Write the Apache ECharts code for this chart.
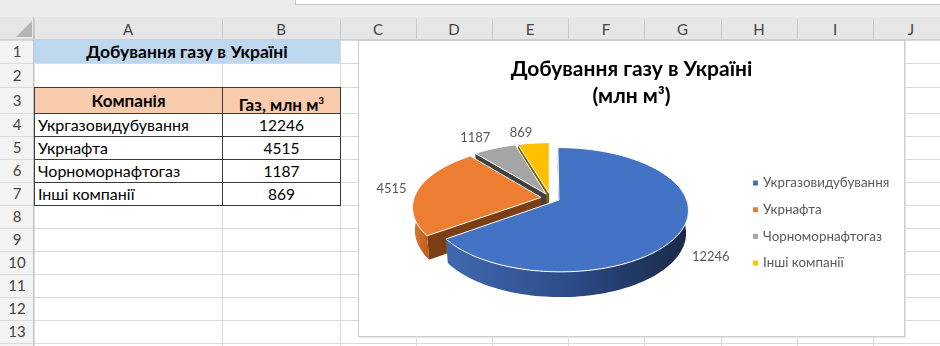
<!DOCTYPE html>
<html>
<head>
<meta charset="utf-8">
<script src="https://cdn.jsdelivr.net/npm/echarts@6/dist/echarts.min.js"></script>
<style>
html, body { margin: 0; padding: 0; }
body {
  width: 940px;
  height: 346px;
  overflow: hidden;
  position: relative;
  background: #fff;
  font-family: Lato, 'Open Sans', sans-serif;
}
.abs { position: absolute; box-sizing: border-box; white-space: nowrap; }
#chartBox {
  position: absolute;
  left: 358px;
  top: 40px;
  width: 547px;
  height: 297px;
  border: 1px solid #cdcdcd;
  box-shadow: 1px 1px 0 #e4e4e4;
  background: #fff;
  box-sizing: border-box;
}
#chart { width: 100%; height: 100%; }
</style>
</head>
<body>
<div id="sheet"></div>
<div id="chartBox"><div id="chart"></div></div>
<script>
// дані
const companies = ['Укргазовидубування', 'Укрнафта', 'Чорноморнафтогаз', 'Інші компанії'];
const gasOutput = [12246, 4515, 1187, 869];
const sheetTitle = 'Добування газу в Україні';
const tableHeader = ['Компанія', 'Газ, млн м<sup style="font-size:10px">3</sup>'];
const chartTitle = 'Добування газу в Україні\n(млн м³)';
const colLetters = ['A', 'B', 'C', 'D', 'E', 'F', 'G', 'H', 'I', 'J'];
const rowNumbers = [1, 2, 3, 4, 5, 6, 7, 8, 9, 10, 11, 12, 13];

const sliceColors = ['#4472c4', '#ed7d31', '#a5a5a5', '#ffc000'];
const cutColors = ['#1f3564', '#7c3f13', '#404040', '#7f6000'];
const outerColors = [
  ['#4169b0', '#2d4c8a', '#1a2947'],
  ['#d87a35', '#cc6b26', '#b85a18'],
  ['#8c8c8c', '#7a7a7a', '#606060'],
  ['#d9a300', '#c49300', '#a07800']
];
const fontFamily = 'Lato, "Open Sans", sans-serif';

// ---- аркуш Excel ----
const sheet = document.getElementById('sheet');
const colEdges = [34, 222, 340, 416, 492, 568, 644, 721, 797, 873, 949];
const rowEdges = [40, 63, 87, 113, 136, 159, 182, 205, 228, 251, 274, 297, 320, 343];

function box(x, y, w, h, css, html) {
  const d = document.createElement('div');
  d.className = 'abs';
  d.style.cssText = `left:${x}px;top:${y}px;width:${w}px;height:${h}px;` + (css || '');
  if (html != null) d.innerHTML = html;
  sheet.appendChild(d);
  return d;
}

box(0, 0, 940, 17, 'background:#ececec');
box(295, 0, 645, 5, 'background:#fff;border-left:1px solid #c6c6c6;border-bottom:1px solid #c6c6c6');
box(0, 17, 940, 23, 'background:#e6e6e6');
box(16, 21, 0, 0, 'border-left:16px solid transparent;border-bottom:16px solid #b5b5b5');
box(0, 40, 34, 306, 'background:#f3f3f3');

rowEdges.forEach(y => box(0, y, 940, 1, 'background:#dadada'));
colEdges.forEach(x => {
  box(x, 40, 1, 306, 'background:#dadada');
  box(x, 19, 1, 21, 'background:#c9c9c9');
});
box(33, 17, 1, 329, 'background:#c4c4c4');
box(0, 39, 940, 1, 'background:#cfcfcf');

colLetters.forEach((c, i) => {
  box(colEdges[i], 17, colEdges[i + 1] - colEdges[i], 23,
    'text-align:center;line-height:24px;color:#444;font-size:15px', c);
});
rowNumbers.forEach((n, i) => {
  const y0 = rowEdges[i], y1 = rowEdges[i + 1] || 366;
  box(0, y0, 34, y1 - y0, `text-align:center;line-height:${y1 - y0}px;color:#444;font-size:15px`, n);
});

// A1:B1
box(34, 40, 306, 23, 'background:#bdd7ee;text-align:center;line-height:23px;font-weight:bold;font-size:17.5px;color:#000', sheetTitle);

// таблиця A3:B7
function cell(col, row, html, css) {
  const x0 = colEdges[col], x1 = colEdges[col + 1];
  const y0 = rowEdges[row], y1 = rowEdges[row + 1];
  box(x0, y0, x1 - x0 + 1, y1 - y0 + 1,
    `border:1px solid #3a3a3a;line-height:${y1 - y0 - 1}px;font-size:16px;color:#000;` + css, html);
}
cell(0, 2, tableHeader[0], 'background:#f8cbad;font-weight:bold;font-size:17px;text-align:center');
cell(1, 2, tableHeader[1], 'background:#f8cbad;font-weight:bold;font-size:17px;text-align:center');
companies.forEach((name, i) => {
  cell(0, 3 + i, name, 'background:#fff;padding-left:3px');
  cell(1, 3 + i, gasOutput[i], 'background:#fff;text-align:center;font-size:15.5px');
});

// ---- 3D кругова діаграма ----
const pie = {
  cx: 191.5, cy: 157, r: 127, h: 26,
  tilt: 28.2 * Math.PI / 180, dist: 725,
  explode: 9.5, labelGap: 12
};
const sinT = Math.sin(pie.tilt), cosT = Math.cos(pie.tilt);

function project(x, y, z) {
  const depth = z * cosT + y * sinT;
  const s = pie.dist / (pie.dist - depth);
  return [pie.cx + x * s, pie.cy + (z * sinT - y * cosT) * s];
}

function arcPoints(ox, oz, from, to, y) {
  const n = Math.max(2, Math.ceil(Math.abs(to - from) / 0.03));
  const pts = [];
  for (let k = 0; k <= n; k++) {
    const t = from + (to - from) * k / n;
    pts.push(project(ox + pie.r * Math.sin(t), y, oz - pie.r * Math.cos(t)));
  }
  return pts;
}

function buildPie(values) {
  const total = values.reduce((a, b) => a + b, 0);
  const slices = [];
  const walls = [];
  let acc = 0;
  values.forEach((v, i) => {
    const a0 = acc / total * 2 * Math.PI;
    acc += v;
    const a1 = acc / total * 2 * Math.PI;
    const mid = (a0 + a1) / 2;
    const ox = pie.explode * Math.sin(mid), oz = -pie.explode * Math.cos(mid);
    const slice = {
      top: [project(ox, 0, oz)].concat(arcPoints(ox, oz, a0, a1, 0)),
      walls: []
    };
    // зовнішня бічна стінка (видима частина спереду)
    const w0 = Math.max(a0, Math.PI / 2), w1 = Math.min(a1, 1.5 * Math.PI);
    if (w1 > w0) {
      const m = (w0 + w1) / 2;
      walls.push({
        slice: i, kind: 'outer',
        points: arcPoints(ox, oz, w0, w1, 0).concat(arcPoints(ox, oz, w1, w0, -pie.h)),
        depth: (oz - pie.r * Math.cos(m)) * cosT - pie.h / 2 * sinT
      });
    }
    // радіальні зрізи
    [[a0, -1], [a1, 1]].forEach(([a, sign]) => {
      const nx = sign * Math.cos(a), nz = sign * Math.sin(a);
      const px = ox + pie.r / 2 * Math.sin(a), pz = oz - pie.r / 2 * Math.cos(a);
      if (-px * nx + (pie.dist * cosT - pz) * nz <= 0) return;
      const ex = ox + pie.r * Math.sin(a), ez = oz - pie.r * Math.cos(a);
      walls.push({
        slice: i, kind: 'cut',
        points: [project(ox, 0, oz), project(ex, 0, ez), project(ex, -pie.h, ez), project(ox, -pie.h, oz)],
        depth: pz * cosT - pie.h / 2 * sinT
      });
    });
    // підпис
    const lr = pie.r + pie.labelGap;
    const lx = ox + lr * Math.sin(mid), lz = oz - lr * Math.cos(mid);
    const lp = project(lx, lz > 0 ? -pie.h : 0, lz);
    slice.label = {
      x: lp[0], y: lp[1],
      align: lx > 0 ? 'left' : 'right',
      verticalAlign: Math.cos(mid) > 0.7 ? 'bottom' : 'middle'
    };
    slices.push(slice);
  });
  walls.sort((p, q) => p.depth - q.depth).forEach((w, k) => {
    w.z2 = 1 + k;
    slices[w.slice].walls.push(w);
  });
  return slices;
}

const slices = buildPie(gasOutput);

function renderSlice(params, api) {
  const i = params.dataIndex;
  const s = slices[i];
  const children = s.walls.map(w => ({
    type: 'polygon',
    z2: w.z2,
    shape: { points: w.points },
    style: {
      fill: w.kind === 'outer'
        ? { type: 'linear', x: 0, y: 0, x2: 1, y2: 0,
            colorStops: outerColors[i].map((c, k) => ({ offset: k / (outerColors[i].length - 1), color: c })) }
        : cutColors[i]
    }
  }));
  children.push({
    type: 'polygon',
    z2: 100,
    shape: { points: s.top },
    style: { fill: sliceColors[i], stroke: '#fff', lineWidth: 1 }
  });
  children.push({
    type: 'text',
    z2: 110,
    x: s.label.x,
    y: s.label.y,
    style: {
      text: String(api.value(0)),
      fill: '#595959',
      font: '13px ' + fontFamily,
      align: s.label.align,
      verticalAlign: s.label.verticalAlign
    }
  });
  return { type: 'group', children };
}

const chart = echarts.init(document.getElementById('chart'));
const option = {
  animation: false,
  color: sliceColors,
  title: {
    text: chartTitle,
    left: 'center',
    top: 15,
    padding: 0,
    textStyle: {
      fontFamily: fontFamily,
      fontSize: 21,
      fontWeight: 'bold',
      color: '#000',
      lineHeight: 27
    }
  },
  legend: {
    orient: 'vertical',
    left: 394,
    top: 135,
    padding: 0,
    icon: 'rect',
    itemWidth: 5,
    itemHeight: 5,
    itemGap: 12.7,
    selectedMode: false,
    data: companies,
    textStyle: { color: '#595959', fontSize: 13.4, fontFamily: fontFamily, lineHeight: 14 }
  },
  series: [
    {
      type: 'custom',
      coordinateSystem: 'none',
      data: gasOutput,
      renderItem: renderSlice
    },
    {
      type: 'pie',
      radius: 0,
      center: [-50, -50],
      silent: true,
      label: { show: false },
      labelLine: { show: false },
      data: companies.map((name, i) => ({ name, value: gasOutput[i] }))
    }
  ]
};
chart.setOption(option);
</script>
</body>
</html>
